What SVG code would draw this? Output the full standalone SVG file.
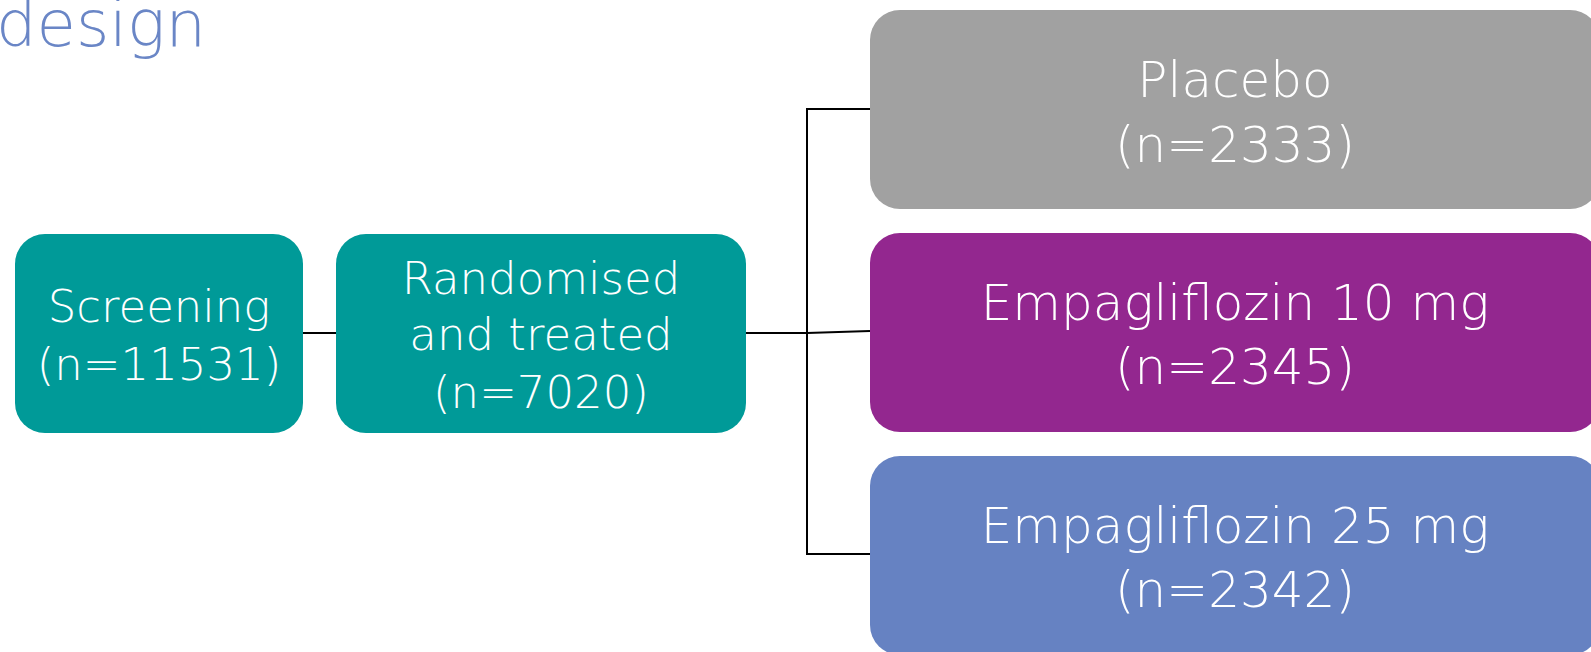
<svg xmlns="http://www.w3.org/2000/svg" width="1591" height="652" viewBox="0 0 1591 652">
  <style>
    .box { stroke: none; }
    .teal { fill: #009A98; }
    .grey { fill: #A1A1A1; }
    .purple { fill: #93278F; }
    .blue { fill: #6682C2; }
    .lbl { fill: #FFFFFF; font-family: "DejaVu Sans", "Liberation Sans", sans-serif; font-weight: 200; text-anchor: middle; }
    .small { font-size: 45px; }
    .big { font-size: 50px; }
    .title { fill: #6A86C6; font-family: "DejaVu Sans", "Liberation Sans", sans-serif; font-weight: 200; font-size: 64px; text-anchor: end; }
    .wire { fill: none; stroke: #000000; stroke-width: 2; }
  </style>

  <rect width="1591" height="652" fill="#FFFFFF"/>

  <!-- heading, partly running off the left edge -->
  <text class="title" x="206" y="46">design</text>

  <g id="connectors">
    <line class="wire" x1="303" y1="333" x2="336" y2="333"/>
    <line class="wire" x1="746" y1="333" x2="807" y2="333"/>
    <line class="wire" x1="807" y1="333" x2="870" y2="331"/>
    <polyline class="wire" points="870,109 807,109 807,554 870,554"/>
  </g>

  <g id="screening">
    <rect class="box teal" x="15" y="234" width="288" height="199" rx="30"/>
    <text class="lbl small" x="159" y="322">Screening</text>
    <text class="lbl small" x="159" y="380">(n=11531)</text>
  </g>

  <g id="randomised">
    <rect class="box teal" x="336" y="234" width="410" height="199" rx="30"/>
    <text class="lbl small" x="541" y="294">Randomised</text>
    <text class="lbl small" x="541" y="350">and treated</text>
    <text class="lbl small" x="541" y="408">(n=7020)</text>
  </g>

  <g id="placebo">
    <rect class="box grey" x="870" y="10" width="730" height="199" rx="30"/>
    <text class="lbl big" x="1235" y="97">Placebo</text>
    <text class="lbl big" x="1235" y="162">(n=2333)</text>
  </g>

  <g id="empa10">
    <rect class="box purple" x="870" y="233" width="730" height="199" rx="30"/>
    <text class="lbl big" x="1235" y="320">Empagliflozin 10 mg</text>
    <text class="lbl big" x="1235" y="384">(n=2345)</text>
  </g>

  <g id="empa25">
    <rect class="box blue" x="870" y="456" width="730" height="199" rx="30"/>
    <text class="lbl big" x="1235" y="543">Empagliflozin 25 mg</text>
    <text class="lbl big" x="1235" y="607">(n=2342)</text>
  </g>
</svg>
